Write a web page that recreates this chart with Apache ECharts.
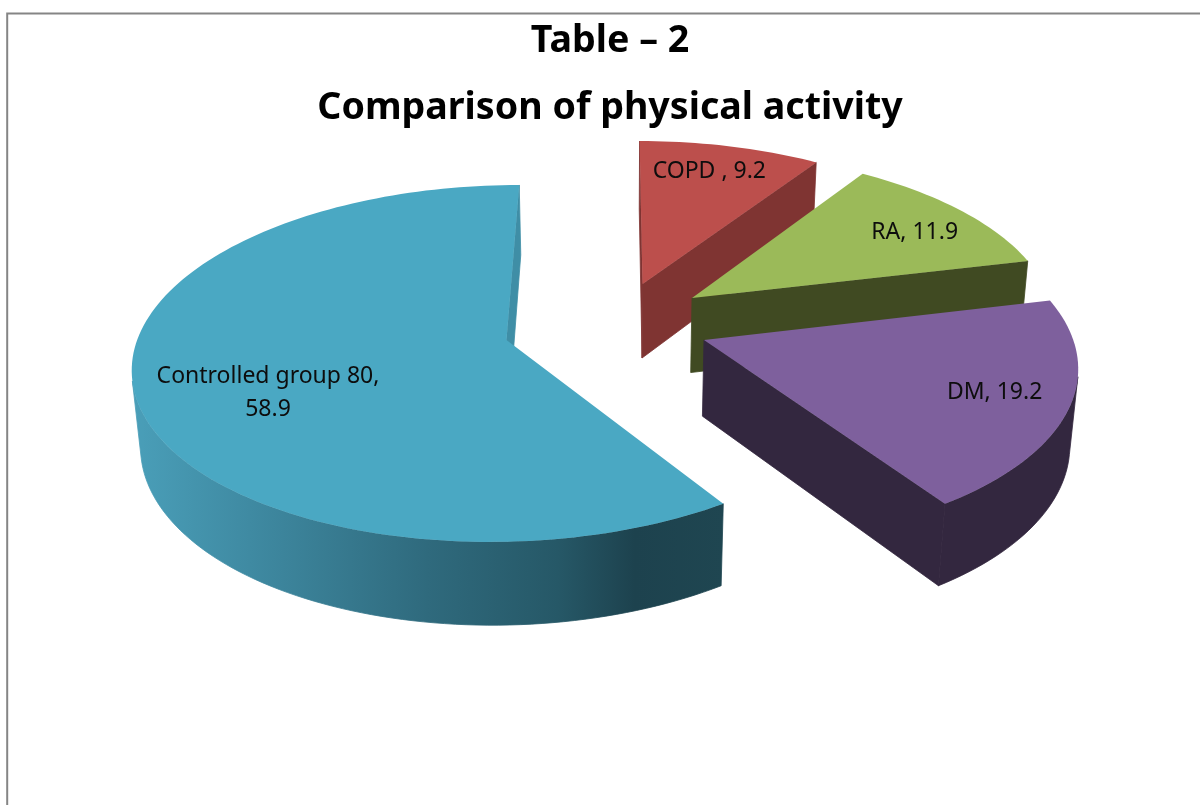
<!DOCTYPE html>
<html>
<head>
<meta charset="utf-8">
<style>html,body{margin:0;padding:0;background:#fff}#chart{width:1200px;height:805px}</style>
<script src="https://cdn.jsdelivr.net/npm/echarts@6/dist/echarts.min.js"></script>
</head>
<body>
<div id="chart"></div>
<script>
// Physical activity shares
const titleLines = ['Table – 2', 'Comparison of physical activity'];
const categories = ['COPD ', 'RA', 'DM', 'Controlled group 80'];
const values = [9.2, 11.9, 19.2, 58.9];

// Slice colours: top face, side face
const topColors = ['#bc4f4c', '#9bba59', '#7e609d', '#4aa8c3'];
const sideColors = ['#7f3432', '#404a22', '#33273f', '#3f8ea6'];

// Pie plane layout, in units of the pie radius
const explode = [[0.0735, 0.2543], [0.2111, 0.1683], [0.2369, -0.0789], [-0.298, -0.0789]];
const labelAnchors = [[15.3, 0.814], [57.1, 0.796], [110.2, 0.799], [245.4, 0.672]];

// Camera: projection of the tilted pie onto the page
const view = { cx: 616.5, cy: 326.3, sx: 365.5, sy: 171.8, depth: 77, persp: 0.13, drop: 0.018 };
const total = values.reduce((a, b) => a + b, 0);

function project(u, v, z) {
  const w = 1 + view.persp * v + view.drop * z;
  return [view.cx + view.sx * u / w, view.cy - view.sy * v / w + view.depth * z / w];
}

function arcPoints(off, from, to, z) {
  const pts = [];
  const steps = Math.ceil((to - from) / 1.5);
  for (let i = 0; i <= steps; i++) {
    const a = (from + (to - from) * i / steps) * Math.PI / 180;
    pts.push(project(off[0] + Math.sin(a), off[1] + Math.cos(a), z));
  }
  return pts;
}

function signedArea(pts) {
  let sum = 0;
  pts.forEach((p, i) => {
    const q = pts[(i + 1) % pts.length];
    sum += p[0] * q[1] - q[0] * p[1];
  });
  return sum / 2;
}

function poly(points, fill, edge) {
  return {
    type: 'polygon',
    silent: true,
    shape: { points },
    style: { fill, stroke: edge ? fill : null, lineWidth: edge ? 0.8 : 0 }
  };
}

// Shading of the large slice's rim, spread across its width on the page
const rimFade = new echarts.graphic.LinearGradient(131, 0, 724, 0, [
  { offset: 0, color: '#4a9fb9' },
  { offset: 0.2, color: '#3f8aa2' },
  { offset: 0.5, color: '#2f6a7d' },
  { offset: 0.72, color: '#265867' },
  { offset: 0.85, color: '#1d424e' },
  { offset: 1, color: '#1f4651' }
], true);

function renderSlice(params, api) {
  const i = params.dataIndex;
  const start = values.slice(0, i).reduce((a, b) => a + b, 0) / total * 360;
  const end = start + api.value(0) / total * 360;
  const off = explode[i];
  const apexTop = project(off[0], off[1], 0);
  const apexBase = project(off[0], off[1], 1);
  const topArc = arcPoints(off, start, end, 0);
  const baseArc = arcPoints(off, start, end, 1);
  const last = topArc.length - 1;
  const children = [];

  // Cut faces and rim are drawn only where they turn towards the viewer
  const startFace = [apexTop, topArc[0], baseArc[0], apexBase];
  if (signedArea(startFace) < 0) {
    children.push(poly(startFace, sideColors[i], true));
  }
  const rimTop = [];
  const rimBase = [];
  for (let k = 0; k < last; k++) {
    if (signedArea([topArc[k], topArc[k + 1], baseArc[k + 1], baseArc[k]]) < 0) {
      if (!rimTop.length) {
        rimTop.push(topArc[k]);
        rimBase.push(baseArc[k]);
      }
      rimTop.push(topArc[k + 1]);
      rimBase.push(baseArc[k + 1]);
    }
  }
  if (rimTop.length) {
    children.push(poly(rimTop.concat(rimBase.reverse()), i === 3 ? rimFade : sideColors[i], true));
  }
  const endFace = [apexTop, topArc[last], baseArc[last], apexBase];
  if (signedArea(endFace) > 0) {
    children.push(poly(endFace, sideColors[i], true));
  }
  children.push(poly([apexTop].concat(topArc), topColors[i], false));

  const anchor = labelAnchors[i];
  const rad = anchor[0] * Math.PI / 180;
  const labelPos = project(off[0] + anchor[1] * Math.sin(rad), off[1] + anchor[1] * Math.cos(rad), 0);
  const name = categories[i] + ',';
  children.push({
    type: 'text',
    silent: true,
    x: labelPos[0],
    y: labelPos[1] + 2,
    style: {
      text: i === 3 ? name + '\n' + api.value(0) : name + ' ' + api.value(0),
      fill: '#0d0d0d',
      font: '23px "Noto Sans"',
      lineHeight: 33,
      align: 'center',
      verticalAlign: 'middle'
    }
  });
  return { type: 'group', children };
}

const chart = echarts.init(document.getElementById('chart'), null, { renderer: 'canvas' });
chart.setOption({
  animation: false,
  backgroundColor: '#ffffff',
  title: {
    text: titleLines.join('\n'),
    left: 605,
    top: 3,
    textAlign: 'center',
    textStyle: {
      fontFamily: 'Noto Sans',
      fontWeight: 'bold',
      fontSize: 37.6,
      lineHeight: 67,
      color: '#000000'
    }
  },
  graphic: [{
    // Chart frame, running off the right and bottom of the page
    type: 'rect',
    silent: true,
    shape: { x: 7.2, y: 13.5, width: 1300, height: 900 },
    style: { fill: null, stroke: '#858585', lineWidth: 2 },
    z: -1
  }],
  series: [{
    type: 'custom',
    coordinateSystem: 'none',
    renderItem: renderSlice,
    data: values.map(v => [v])
  }]
});
</script>
</body>
</html>
